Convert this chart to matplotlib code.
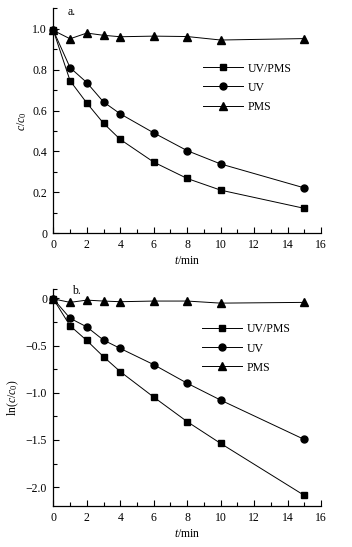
import numpy as np
import matplotlib
matplotlib.use("Agg")
import matplotlib.pyplot as plt
from matplotlib.ticker import MultipleLocator, FixedLocator, FuncFormatter

# --- data ---
t = [0, 1, 2, 3, 4, 6, 8, 10, 15]

# panel a: c/c0
a_uvpms = [0.992, 0.746, 0.637, 0.538, 0.459, 0.348, 0.268, 0.211, 0.122]
a_uv = [0.992, 0.810, 0.737, 0.642, 0.584, 0.491, 0.404, 0.339, 0.222]
a_pms = [0.992, 0.951, 0.979, 0.968, 0.961, 0.964, 0.962, 0.945, 0.952]

# panel b: ln(c/c0)
b_uvpms = [-0.005, -0.29, -0.446, -0.618, -0.776, -1.046, -1.306, -1.537, -2.088]
b_uv = [-0.005, -0.21, -0.302, -0.442, -0.53, -0.702, -0.899, -1.078, -1.495]
b_pms = [-0.005, -0.042, -0.018, -0.028, -0.035, -0.028, -0.028, -0.05, -0.042]

names = ["UV/PMS", "UV", "PMS"]
markers = ["s", "o", "^"]
msizes = [5.0, 5.0, 6.0]

FS = 8.5
plt.rcParams["font.family"] = ["Liberation Serif", "DejaVu Serif"]
plt.rcParams["mathtext.fontset"] = "custom"
plt.rcParams["mathtext.rm"] = "Liberation Serif"
plt.rcParams["mathtext.it"] = "Liberation Serif:italic"
plt.rcParams["font.size"] = FS


def fmt(v, pos):
    if abs(v) < 1e-9:
        return "0"
    return f"{v:.1f}".replace("-", "\u2212")


def style_axis(ax):
    for s in ["top", "right"]:
        ax.spines[s].set_visible(False)
    for s in ["left", "bottom"]:
        ax.spines[s].set_linewidth(0.9)
    ax.set_xlim(0, 16)
    ax.xaxis.set_major_locator(MultipleLocator(2))
    ax.xaxis.set_minor_locator(MultipleLocator(1))
    ax.tick_params(which="both", direction="in", width=0.8, labelsize=FS)
    ax.tick_params(axis="x", pad=4)
    ax.tick_params(axis="y", pad=4.5)
    ax.tick_params(which="major", length=4)
    ax.tick_params(which="minor", length=3)
    ax.yaxis.set_major_formatter(FuncFormatter(fmt))
    ax.set_xlabel(r"$t$/min", fontsize=FS, labelpad=3)


def draw(ax, series, anchor):
    handles = []
    for y, n, m, ms in zip(series, names, markers, msizes):
        h, = ax.plot(t, y, color="black", lw=0.7, marker=m, ms=ms,
                     mfc="black", mec="black", label=n, clip_on=False)
        handles.append(h)
    ax.legend(handles=handles, loc="upper left", bbox_to_anchor=anchor,
              frameon=False, fontsize=FS, handlelength=3.4,
              handletextpad=0.4, labelspacing=0.6, borderaxespad=0)


fig = plt.figure(figsize=(3.52, 5.47), dpi=100)

# panel a
ax1 = fig.add_axes([0.1515, 0.5735, 0.7605, 0.4113])
draw(ax1, [a_uvpms, a_uv, a_pms], (0.541, 0.78))
style_axis(ax1)
ax1.set_ylim(0, 1.1)
ax1.yaxis.set_major_locator(FixedLocator([0, 0.2, 0.4, 0.6, 0.8, 1.0]))
ax1.yaxis.set_minor_locator(FixedLocator([0.1, 0.3, 0.5, 0.7, 0.9, 1.1]))
ax1.set_ylabel(r"$c/c_0$", fontsize=FS, labelpad=2)
ax1.text(0.055, 0.985, "a.", transform=ax1.transAxes, fontsize=FS,
         va="center", ha="left")

# panel b
ax2 = fig.add_axes([0.1515, 0.075, 0.7605, 0.3967])
draw(ax2, [b_uvpms, b_uv, b_pms], (0.536, 0.863))
style_axis(ax2)
ax2.set_ylim(-2.2, 0.1)
ax2.yaxis.set_major_locator(FixedLocator([0, -0.5, -1.0, -1.5, -2.0]))
ax2.yaxis.set_minor_locator(FixedLocator([-0.25, -0.75, -1.25, -1.75, 0.1]))
ax2.set_ylabel(r"ln($c$/$c_0$)", fontsize=FS, labelpad=3)
ax2.text(0.07, 0.99, "b.", transform=ax2.transAxes, fontsize=FS,
         va="center", ha="left")

fig.savefig("out.png", dpi=100)
